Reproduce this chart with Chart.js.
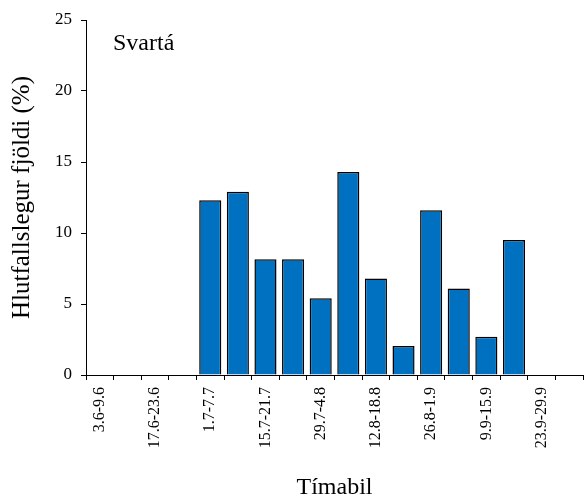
<!DOCTYPE html>
<html>
<head>
<meta charset="utf-8">
<script src="https://cdn.jsdelivr.net/npm/chart.js@4/dist/chart.umd.min.js"></script>
<style>
  body { margin: 0; background: #fff; }
  #wrap { width: 588px; height: 502px; }
</style>
</head>
<body>
<div id="wrap"><canvas id="chart"></canvas></div>
<script>
// weekly periods (only every second one is labelled in the figure)
var periods = ['3.6-9.6', '10.6-16.6', '17.6-23.6', '24.6-30.6', '1.7-7.7', '8.7-14.7',
  '15.7-21.7', '22.7-28.7', '29.7-4.8', '5.8-11.8', '12.8-18.8', '19.8-25.8',
  '26.8-1.9', '2.9-8.9', '9.9-15.9', '16.9-22.9', '23.9-29.9', '30.9-6.10'];
// hlutfallslegur fjoldi (%) per period
var percent = [0, 0, 0, 0, 12.3, 12.9, 8.15, 8.15, 5.4, 14.3, 6.8, 2.05, 11.6, 6.1, 2.7, 9.5, 0, 0];
var yTicks = [0, 5, 10, 15, 20, 25];
var riverName = 'Svartá';

var serif = '"Liberation Serif", "Times New Roman", serif';

// draws the river name inside the plot
var nameLabel = {
  id: 'nameLabel',
  afterDraw: function(chart) {
    var ctx = chart.ctx;
    ctx.save();
    ctx.font = '24px ' + serif;
    ctx.fillStyle = '#000';
    ctx.textBaseline = 'alphabetic';
    ctx.fillText(riverName, chart.chartArea.left + 27, chart.chartArea.top + 30);
    ctx.restore();
  }
};

var myChart = new Chart(document.getElementById('chart'), {
  type: 'bar',
  data: {
    labels: periods,
    datasets: [{
      data: percent,
      backgroundColor: '#0070C0',
      borderColor: '#000',
      borderWidth: 1.5,
      categoryPercentage: 1,
      barPercentage: 0.8
    }]
  },
  options: {
    responsive: true,
    maintainAspectRatio: false,
    animation: false,
    layout: { padding: { top: 20, right: 5, left: 0, bottom: 0 } },
    plugins: {
      legend: { display: false },
      tooltip: { enabled: false }
    },
    scales: {
      x: {
        grid: { display: true, drawOnChartArea: false, drawTicks: true, tickLength: 5, color: '#000', offset: true },
        border: { display: true, color: '#000', width: 1 },
        ticks: {
          autoSkip: false,
          maxRotation: 90,
          minRotation: 90,
          padding: 7,
          color: '#000',
          font: { family: serif, size: 16 },
          callback: function(v, i) { return i % 2 === 0 ? periods[i] : ''; }
        },
        title: {
          display: true,
          text: 'Tímabil',
          color: '#000',
          font: { family: serif, size: 24 },
          padding: { top: 0, bottom: 0 }
        },
        afterFit: function(s) {
          s.height = 127;
          s.paddingLeft = 0;
          s.paddingRight = 0;
        }
      },
      y: {
        min: 0,
        max: 25,
        afterBuildTicks: function(s) { s.ticks = yTicks.map(function(v) { return { value: v }; }); },
        grid: { display: true, drawOnChartArea: false, drawTicks: true, tickLength: 5, color: '#000' },
        border: { display: true, color: '#000', width: 1 },
        ticks: {
          padding: 9,
          color: '#000',
          font: { family: serif, size: 17 }
        },
        title: {
          display: true,
          text: 'Hlutfallslegur fjöldi (%)',
          color: '#000',
          font: { family: serif, size: 25 },
          padding: { top: 7, bottom: 0 }
        },
        afterFit: function(s) { s.width = 86; }
      }
    }
  },
  plugins: [nameLabel]
});
</script>
</body>
</html>
